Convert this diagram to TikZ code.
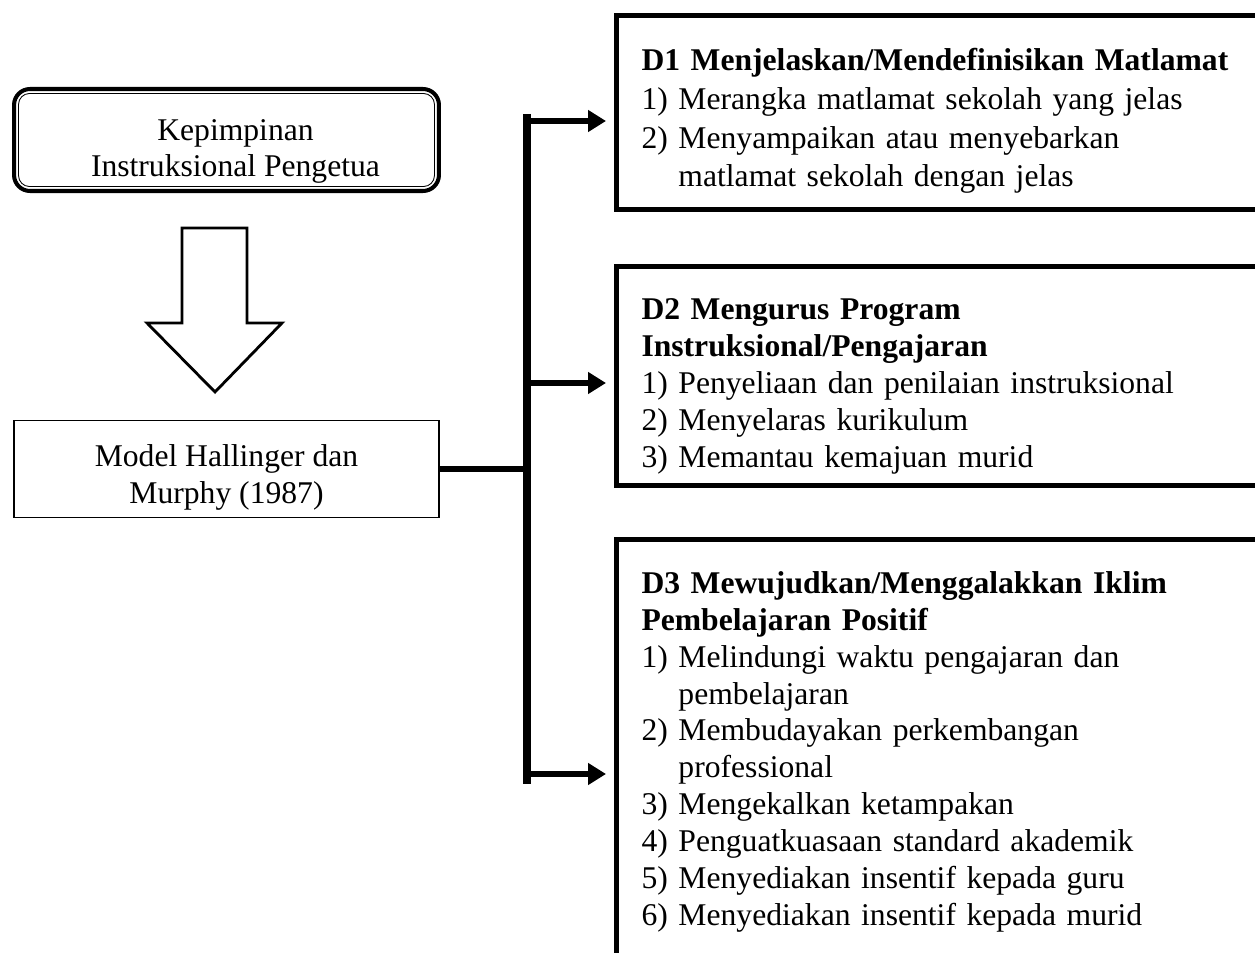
\documentclass[tikz,border=0pt]{standalone}
\usepackage{fontspec}
\setmainfont{Liberation Serif}
\usetikzlibrary{arrows.meta}
\usetikzlibrary{positioning}

\newcommand{\topgap}[1]{\rule{0pt}{\dimexpr14.7pt+#1\relax}}

\begin{document}
\begin{tikzpicture}[x=0.02cm,y=-0.02cm,
        font=\fontsize{18}{21}\selectfont,
        lead/.style={draw,rounded corners=0.32cm,line width=2.3pt,minimum width=8.5cm,minimum height=2.04cm,align=center},
        modelbox/.style={draw,line width=0.8pt,minimum width=8.5cm,minimum height=1.94cm,align=center},
        dbox/.style={draw,line width=2.85pt,anchor=north west,text width=13cm,inner xsep=0.5cm,align=left},
        link/.style={line width=3.4pt},
        arr/.style={line width=3.4pt,-{Triangle[length=0.36cm,width=0.42cm]},shorten >=0.16cm}]
        \useasboundingbox (0,0) rectangle (1255,953);
        % left column
        \node[lead] (kep) at (226.5,140) {\topgap{0.36cm}\hspace*{0.36cm}Kepimpinan\\\hspace*{0.36cm}Instruksional Pengetua};
        \draw[rounded corners=0.22cm,line width=0.5pt] ([xshift=0.13cm,yshift=-0.13cm]kep.north west) rectangle ([xshift=-0.13cm,yshift=0.13cm]kep.south east);
        \draw[line width=1.6pt,miter limit=20] (182,228) -- (247,228) -- (247,323) -- (282,323) -- (215,392) -- (147,323) -- (182,323) -- cycle;
        \node[modelbox] (model) [below=4.54cm of kep] {\topgap{0.24cm}Model Hallinger dan\\Murphy (1987)};
        % dimensions
        \node[dbox,minimum height=3.88cm] (d1) at (614,13) {%
            \begin{tabular}{@{}p{0.74cm}@{}l@{}}
            \multicolumn{2}{@{}l@{}}{\topgap{0.36cm}\textbf{D1 Menjelaskan/Mendefinisikan Matlamat}}\\[1pt]
            1) & Merangka matlamat sekolah yang jelas\\[1pt]
            2) & Menyampaikan atau menyebarkan\\[1pt]
               & matlamat sekolah dengan jelas
            \end{tabular}};
        \node[dbox,minimum height=4.38cm] (d2) at (614,264) {%
            \begin{tabular}{@{}p{0.74cm}@{}l@{}}
            \multicolumn{2}{@{}l@{}}{\topgap{0.4cm}\textbf{D2 Mengurus Program}}\\
            \multicolumn{2}{@{}l@{}}{\textbf{Instruksional/Pengajaran}}\\
            1) & Penyeliaan dan penilaian instruksional\\
            2) & Menyelaras kurikulum\\
            3) & Memantau kemajuan murid
            \end{tabular}};
        \node[dbox,minimum height=8.5cm] (d3) at (614,537) {%
            \begin{tabular}{@{}p{0.74cm}@{}l@{}}
            \multicolumn{2}{@{}l@{}}{\textbf{D3 Mewujudkan/Menggalakkan Iklim}}\\
            \multicolumn{2}{@{}l@{}}{\textbf{Pembelajaran Positif}}\\
            1) & Melindungi waktu pengajaran dan\\
               & pembelajaran\\
            2) & Membudayakan perkembangan\\
               & professional\\
            3) & Mengekalkan ketampakan\\
            4) & Penguatkuasaan standard akademik\\
            5) & Menyediakan insentif kepada guru\\
            6) & Menyediakan insentif kepada murid
            \end{tabular}};
        % connectors
        \coordinate (bartop) at (527,114);
        \coordinate (barbot) at (527,784);
        \coordinate (b1) at (527,121);
        \coordinate (b2) at (527,383);
        \coordinate (b3) at (527,774);
        \draw[line width=4.5pt] (bartop) -- (barbot);
        \draw[link] (model.east) -- (model.east -| bartop);
        \draw[arr] (b1) -- (b1 -| d1.west);
        \draw[arr] (b2) -- (b2 -| d2.west);
        \draw[arr] (b3) -- (b3 -| d3.west);
\end{tikzpicture}
\end{document}
